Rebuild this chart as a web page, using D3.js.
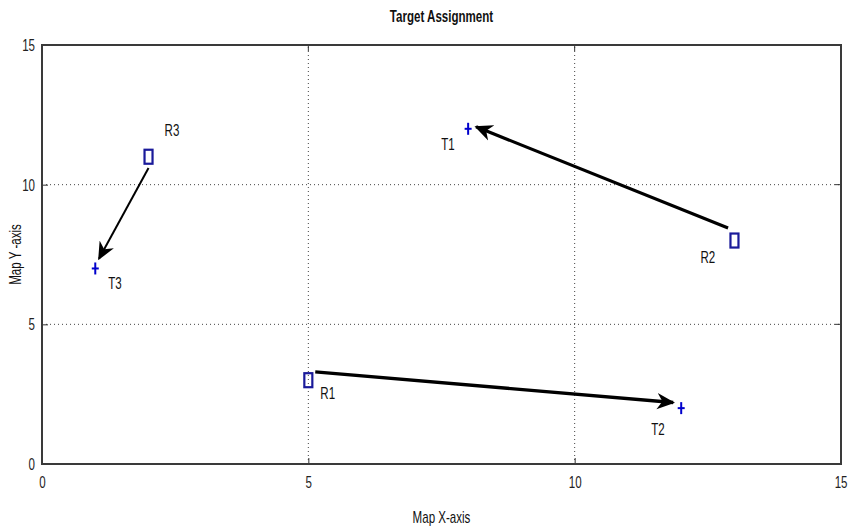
<!DOCTYPE html>
<html>
<head>
<meta charset="utf-8">
<script src="https://cdn.jsdelivr.net/npm/d3@7/dist/d3.min.js"></script>
<style>
  html, body { margin: 0; padding: 0; background: #fff; }
  svg text { font-family: "Liberation Sans", Arial, sans-serif; fill: #111; }
</style>
</head>
<body>
<svg id="chart" width="848" height="529"></svg>
<script>
// Robots and targets on the map
const robotNames = ["R1", "R2", "R3"];
const robotX = [5, 13, 2];
const robotY = [3, 8, 11];

const targetNames = ["T1", "T2", "T3"];
const targetX = [8, 12, 1];
const targetY = [12, 2, 7];

// Assignment arrows (robot -> target), endpoints in map units
const arrowFromX = [5.13, 12.88, 2.0];
const arrowFromY = [3.3, 8.45, 10.6];
const arrowToX = [11.85, 8.15, 1.07];
const arrowToY = [2.2, 12.07, 7.35];
const arrowWidth = [3.4, 3.2, 2];

const xTicks = [0, 5, 10, 15];
const yTicks = [0, 5, 10, 15];

const svg = d3.select("#chart");
const m = { left: 42, right: 7, top: 45, bottom: 65 };
const W = 848, H = 529;
const FS = 17;

const x = d3.scaleLinear().domain([0, 15]).range([m.left, W - m.right]);
const y = d3.scaleLinear().domain([0, 15]).range([H - m.bottom, m.top]);

// dotted grid at inner ticks
const g = svg.append("g");
g.selectAll(".gx").data(xTicks.slice(1, -1)).join("line")
  .attr("x1", d => x(d)).attr("x2", d => x(d))
  .attr("y1", y(0)).attr("y2", y(15))
  .attr("stroke", "#444").attr("stroke-width", 1).attr("stroke-dasharray", "1,3");
g.selectAll(".gy").data(yTicks.slice(1, -1)).join("line")
  .attr("y1", d => y(d)).attr("y2", d => y(d))
  .attr("x1", x(0)).attr("x2", x(15))
  .attr("stroke", "#444").attr("stroke-width", 1).attr("stroke-dasharray", "1,3");

// axes with inward ticks
const xAxis = d3.axisBottom(x).tickValues(xTicks).tickSize(-6).tickPadding(12).tickFormat(d3.format("d"));
const yAxis = d3.axisLeft(y).tickValues(yTicks).tickSize(-6).tickPadding(7).tickFormat(d3.format("d"));
const xa = svg.append("g").attr("transform", `translate(0,${y(0)})`).call(xAxis);
const ya = svg.append("g").attr("transform", `translate(${x(0)},0)`).call(yAxis);
[xa, ya].forEach(a => {
  a.select(".domain").remove();
  a.selectAll(".tick line").attr("stroke", "#333");
  a.selectAll("text").attr("font-size", FS).style("fill", "#222")
    .style("font-family", "'Liberation Sans', Arial, sans-serif");
});
// last x label sits flush with the right edge of the page
xa.selectAll(".tick").filter(d => d === 15).select("text")
  .attr("text-anchor", "end").attr("x", 6);

// top and right ticks
svg.append("g").selectAll("line").data(xTicks).join("line")
  .attr("x1", d => x(d)).attr("x2", d => x(d)).attr("y1", y(15)).attr("y2", y(15) + 6).attr("stroke", "#333");
svg.append("g").selectAll("line").data(yTicks).join("line")
  .attr("y1", d => y(d)).attr("y2", d => y(d)).attr("x1", x(15)).attr("x2", x(15) - 6).attr("stroke", "#333");

// box
svg.append("rect")
  .attr("x", x(0)).attr("y", y(15))
  .attr("width", x(15) - x(0)).attr("height", y(0) - y(15))
  .attr("fill", "none").attr("stroke", "#3a3a3a").attr("stroke-width", 2);

// arrowhead marker
svg.append("defs").append("marker")
  .attr("id", "head").attr("viewBox", "0 0 10 10")
  .attr("refX", 9).attr("refY", 5)
  .attr("markerUnits", "userSpaceOnUse")
  .attr("markerWidth", 18).attr("markerHeight", 18)
  .attr("orient", "auto")
  .append("path").attr("d", "M0,0.5 L10,5 L0,9.5 L3,5 Z").attr("fill", "#000");

svg.append("g").selectAll("line").data(arrowFromX).join("line")
  .attr("x1", (d, i) => x(arrowFromX[i])).attr("y1", (d, i) => y(arrowFromY[i]))
  .attr("x2", (d, i) => x(arrowToX[i])).attr("y2", (d, i) => y(arrowToY[i]))
  .attr("stroke", "#000").attr("stroke-width", (d, i) => arrowWidth[i])
  .attr("marker-end", "url(#head)");

// robots: blue squares
svg.append("g").selectAll("rect").data(robotX).join("rect")
  .attr("x", (d, i) => x(robotX[i]) - 4).attr("y", (d, i) => y(robotY[i]) - 7)
  .attr("width", 8).attr("height", 14)
  .attr("fill", "none").attr("stroke", "#1a1a9a").attr("stroke-width", 2.2);

// targets: blue plus
const plus = svg.append("g");
targetX.forEach((tx, i) => {
  const cx = x(tx), cy = y(targetY[i]);
  plus.append("line").attr("x1", cx - 3.5).attr("x2", cx + 3.5).attr("y1", cy).attr("y2", cy)
    .attr("stroke", "#0000cc").attr("stroke-width", 2);
  plus.append("line").attr("x1", cx).attr("x2", cx).attr("y1", cy - 6).attr("y2", cy + 6)
    .attr("stroke", "#0000cc").attr("stroke-width", 2);
});

// point labels
const robotLabelDx = [12, -34, 16];
const robotLabelDy = [19, 22, -21];
const targetLabelDx = [-27, -30, 13];
const targetLabelDy = [21, 27, 21];
svg.append("g").selectAll("text").data(robotNames).join("text")
  .attr("x", (d, i) => x(robotX[i]) + robotLabelDx[i])
  .attr("y", (d, i) => y(robotY[i]) + robotLabelDy[i])
  .attr("font-size", FS).text(d => d);
svg.append("g").selectAll("text").data(targetNames).join("text")
  .attr("x", (d, i) => x(targetX[i]) + targetLabelDx[i])
  .attr("y", (d, i) => y(targetY[i]) + targetLabelDy[i])
  .attr("font-size", FS).text(d => d);

// titles
svg.append("text").attr("x", (x(0) + x(15)) / 2).attr("y", 22)
  .attr("text-anchor", "middle").attr("font-size", FS).attr("font-weight", "bold")
  .text("Target Assignment");
svg.append("text").attr("x", (x(0) + x(15)) / 2).attr("y", 523)
  .attr("text-anchor", "middle").attr("font-size", FS)
  .text("Map X-axis");
svg.append("text")
  .attr("transform", `translate(21,${(y(0) + y(15)) / 2}) rotate(-90)`)
  .attr("text-anchor", "middle").attr("font-size", FS)
  .text("Map Y -axis");

// narrow lettering
svg.selectAll("text").each(function () {
  const w = this.getComputedTextLength();
  d3.select(this).attr("textLength", w * 0.68).attr("lengthAdjust", "spacingAndGlyphs");
});
</script>
</body>
</html>
